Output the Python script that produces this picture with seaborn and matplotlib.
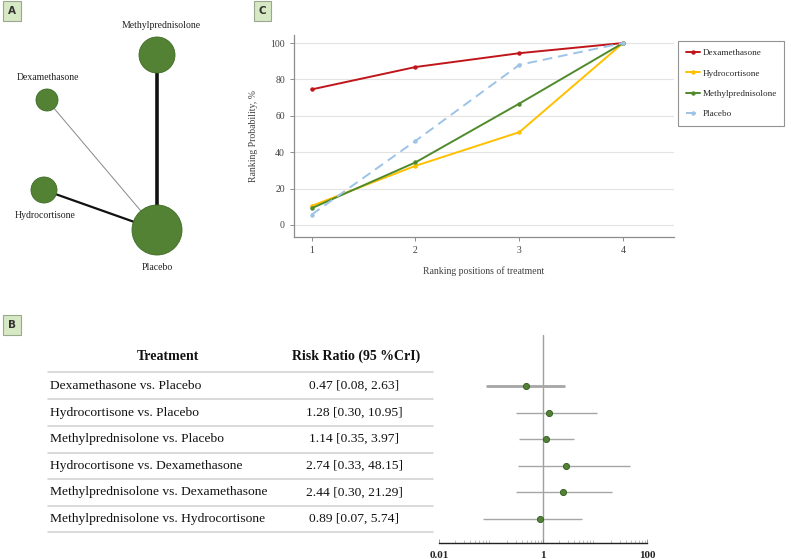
"""
plot.py
Network plot (A), league/forest table (B) and cumulative ranking curves (C).
"""

import matplotlib.pyplot as plt
import matplotlib.ticker as mticker
import pandas as pd
import seaborn as sns

# ---- data -----------------------------------------------------------------
treatments = ["Dexamethasone", "Hydrocortisone", "Methylprednisolone", "Placebo"]

# panel A: network (layout position in px, node size ~ patients)
node_names = ["Methylprednisolone", "Dexamethasone", "Hydrocortisone", "Placebo"]
node_x = [157, 47, 44, 157]
node_y = [55, 100, 190, 230]
node_size = [18, 11, 13, 25]
edge_pairs = [("Methylprednisolone", "Placebo"), ("Dexamethasone", "Placebo"),
              ("Hydrocortisone", "Placebo")]
edge_weight = [2.6, 0.7, 1.6]

# panel C: cumulative ranking probability (%)
ranks = [1, 2, 3, 4]
dexa_prob = [74.5, 86.8, 94.4, 100]
hydro_prob = [10.5, 32.5, 51.0, 100]
methyl_prob = [9.2, 34.4, 66.7, 100]
placebo_prob = [5.7, 46.2, 88.0, 100]

# panel B: risk ratios
comparisons = [
    "Dexamethasone vs. Placebo",
    "Hydrocortisone vs. Placebo",
    "Methylprednisolone vs. Placebo",
    "Hydrocortisone vs. Dexamethasone",
    "Methylprednisolone vs. Dexamethasone",
    "Methylprednisolone vs. Hydrocortisone",
]
rr = [0.47, 1.28, 1.14, 2.74, 2.44, 0.89]
rr_low = [0.08, 0.30, 0.35, 0.33, 0.30, 0.07]
rr_high = [2.63, 10.95, 3.97, 48.15, 21.29, 5.74]

# ---- styling --------------------------------------------------------------
sns.set_theme(style="white")
plt.rcParams["font.family"] = ["Liberation Serif", "DejaVu Serif"]

W, H = 791, 559
GREEN = "#548235"
palette = {"Dexamethasone": "#c0161b", "Hydrocortisone": "#ffc000",
           "Methylprednisolone": "#4f8a2b", "Placebo": "#9dc3e6"}


def box(x0, y0, x1, y1):
    return [x0 / W, 1 - y1 / H, (x1 - x0) / W, (y1 - y0) / H]


def panel_label(x, y, letter):
    fig.text(x / W, 1 - y / H, letter, ha="center", va="center",
             fontsize=7.5, fontweight="bold", family="DejaVu Sans", color="#333333",
             bbox=dict(boxstyle="square,pad=0.45", facecolor="#d7e8c4",
                       edgecolor="#9aa88f", linewidth=0.8))


fig = plt.figure(figsize=(W / 100, H / 100), dpi=100)

# ---- panel A --------------------------------------------------------------
axA = fig.add_axes(box(0, 0, 230, 280))
axA.set_xlim(0, 230)
axA.set_ylim(280, 0)
axA.axis("off")
pos = {n: (x, y) for n, x, y in zip(node_names, node_x, node_y)}
for (a, b), w in zip(edge_pairs, edge_weight):
    col = "#888888" if w < 1 else "#111111"
    axA.plot([pos[a][0], pos[b][0]], [pos[a][1], pos[b][1]], color=col, lw=w, zorder=1)
nodes = pd.DataFrame({"x": node_x, "y": node_y, "r": node_size})
sns.scatterplot(data=nodes, x="x", y="y", size="r",
                sizes={r: (2 * r * 0.72) ** 2 for r in node_size},
                color=GREEN, edgecolor="#3d6b22", linewidth=0.6,
                legend=False, ax=axA, zorder=2)
label_off = {"Methylprednisolone": (4, -29), "Dexamethasone": (1, -22),
             "Hydrocortisone": (1, 26), "Placebo": (0, 38)}
for n in node_names:
    dx, dy = label_off[n]
    axA.text(pos[n][0] + dx, pos[n][1] + dy, n, ha="center", va="center",
             fontsize=7, color="#222222")
panel_label(12, 11, "A")

# ---- panel C --------------------------------------------------------------
axC = fig.add_axes(box(294, 35, 674, 237))
rank_df = pd.DataFrame({
    "rank": ranks * 4,
    "prob": dexa_prob + hydro_prob + methyl_prob + placebo_prob,
    "treatment": [t for t in treatments for _ in ranks],
})
sns.lineplot(data=rank_df, x="rank", y="prob", hue="treatment", style="treatment",
             palette=palette,
             dashes={"Dexamethasone": "", "Hydrocortisone": "",
                     "Methylprednisolone": "", "Placebo": (5, 3)},
             markers={t: "o" for t in treatments}, markersize=3.2,
             markeredgewidth=0, linewidth=1.4, ax=axC)
axC.set_xlim(0.83, 4.49)
axC.set_ylim(-6.6, 104.4)
axC.set_xticks(ranks)
axC.set_yticks(range(0, 101, 20))
axC.yaxis.grid(True, color="#e3e3e3", lw=0.8)
axC.xaxis.grid(False)
for s in ["top", "right"]:
    axC.spines[s].set_visible(False)
for s in ["left", "bottom"]:
    axC.spines[s].set_color("#8c8c8c")
    axC.spines[s].set_linewidth(0.9)
axC.tick_params(axis="both", labelsize=7, colors="#404040", length=3, width=0.7,
                direction="out", left=True, bottom=True)
axC.tick_params(axis="both", color="#8c8c8c")
axC.set_xlabel("Ranking positions of treatment", fontsize=7, color="#404040", labelpad=8)
axC.set_ylabel("Ranking Probability, %", fontsize=7, color="#404040", labelpad=9)
handles, labels = axC.get_legend_handles_labels()
axC.legend(handles, labels, loc="upper left", bbox_to_anchor=(678 / W, 1 - 41 / H),
           bbox_transform=fig.transFigure, fontsize=6.6, frameon=True, fancybox=False,
           edgecolor="#777777", handlelength=1.6, handletextpad=0.2,
           labelspacing=1.3, borderpad=0.85, borderaxespad=0)
axC.get_legend().get_frame().set_linewidth(0.8)
panel_label(262, 11, "C")

# ---- panel B --------------------------------------------------------------
top, bottom, y0, step = 335, 543, 386, 26.6
ylim_rows = ((bottom - y0) / step, (top - y0) / step)
rows = list(range(len(comparisons)))

axB = fig.add_axes(box(0, top, 440, bottom))
axB.set_xlim(0, 440)
axB.set_ylim(*ylim_rows)
axB.axis("off")
axB.text(168, -1.1, "Treatment", ha="center", va="center", fontsize=10,
         fontweight="bold", color="#111111")
axB.text(356, -1.1, "Risk Ratio (95 %CrI)", ha="center", va="center", fontsize=10,
         fontweight="bold", color="#111111")
for i in [-0.52] + [r + 0.5 for r in rows]:
    axB.plot([48, 433], [i, i], color="#cfcfcf", lw=1.1)
for i, (c, v, lo, hi) in enumerate(zip(comparisons, rr, rr_low, rr_high)):
    axB.text(50, i, c, ha="left", va="center", fontsize=9.7, color="#111111")
    axB.text(354, i, f"{v:.2f} [{lo:.2f}, {hi:.2f}]", ha="center", va="center",
             fontsize=9.7, color="#111111")

axF = fig.add_axes(box(439, top, 647, bottom))
forest = pd.DataFrame({"comparison": comparisons, "row": rows, "rr": rr,
                       "lo": rr_low, "hi": rr_high})
axF.set_xscale("log")
axF.hlines(forest["row"], forest["lo"], forest["hi"], color="#a6a6a6",
           lw=[2.0] + [1.0] * 5, zorder=1)
axF.axvline(1, color="#a0a0a0", lw=1.0, zorder=0)
sns.scatterplot(data=forest, x="rr", y="row", color=GREEN, edgecolor="#2f5a1a",
                s=20, linewidth=0.6, ax=axF, zorder=3, legend=False)
axF.set_xlim(0.01, 100)
axF.set_ylim(*ylim_rows)
axF.set_facecolor("none")
for s in ["top", "right", "left"]:
    axF.spines[s].set_visible(False)
axF.spines["bottom"].set_color("#222222")
axF.spines["bottom"].set_linewidth(1.0)
axF.set_yticks([])
axF.set_xlabel("")
axF.set_ylabel("")
axF.xaxis.set_major_locator(mticker.FixedLocator([0.01, 1, 100]))
axF.xaxis.set_major_formatter(mticker.FixedFormatter(["0.01", "1", "100"]))
axF.xaxis.set_minor_locator(mticker.LogLocator(base=10, subs=range(2, 10), numticks=20))
axF.xaxis.set_minor_formatter(mticker.NullFormatter())
axF.tick_params(axis="x", which="major", direction="in", length=3, width=0.6,
                color="#888888", labelsize=8, pad=6, bottom=True)
axF.tick_params(axis="x", which="minor", direction="in", length=2, width=0.5,
                color="#aaaaaa", bottom=True)
for t in axF.get_xticklabels():
    t.set_fontweight("bold")
panel_label(12, 325, "B")

fig.savefig("out.png", dpi=100)
